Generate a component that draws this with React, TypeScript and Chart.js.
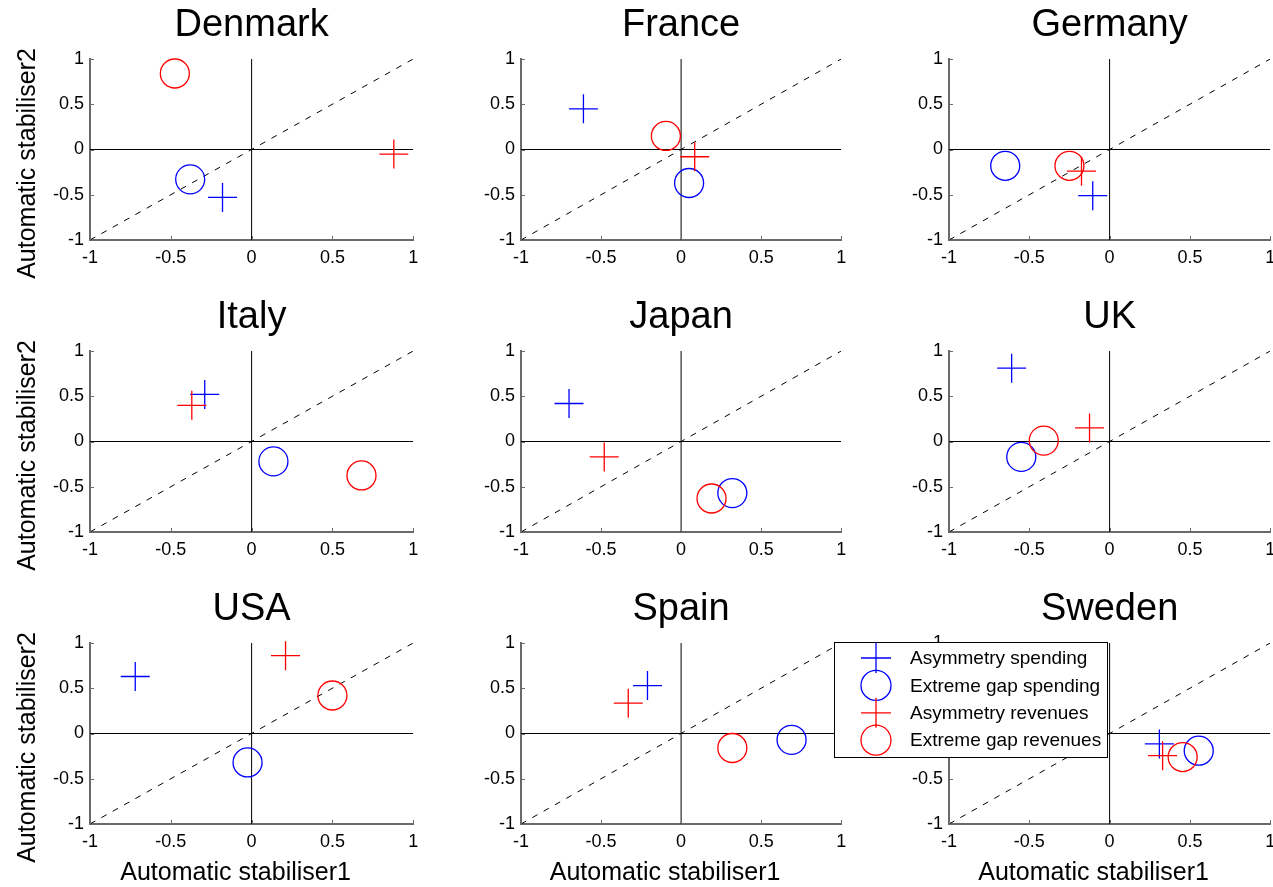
import React, { useEffect, useRef } from 'react';
import { Chart, registerables } from 'chart.js';

Chart.register(...registerables);

// ---------- data ----------
const countries = ['Denmark', 'France', 'Germany', 'Italy', 'Japan', 'UK', 'USA', 'Spain', 'Sweden'];
const seriesNames = ['Asymmetry spending', 'Extreme gap spending', 'Asymmetry revenues', 'Extreme gap revenues'];

const asymSpendingX = [-0.18, -0.61, -0.105, -0.29, -0.70, -0.61, -0.72, -0.21, 0.31];
const asymSpendingY = [-0.53, 0.45, -0.51, 0.52, 0.42, 0.81, 0.63, 0.53, -0.115];
const gapSpendingX = [-0.38, 0.05, -0.65, 0.135, 0.32, -0.55, -0.025, 0.69, 0.555];
const gapSpendingY = [-0.33, -0.37, -0.18, -0.22, -0.57, -0.17, -0.32, -0.07, -0.19];
const asymRevenuesX = [0.88, 0.085, -0.175, -0.37, -0.48, -0.125, 0.21, -0.33, 0.33];
const asymRevenuesY = [-0.05, -0.08, -0.24, 0.40, -0.17, 0.15, 0.86, 0.335, -0.245];
const gapRevenuesX = [-0.475, -0.095, -0.25, 0.68, 0.19, -0.41, 0.50, 0.32, 0.455];
const gapRevenuesY = [0.84, 0.15, -0.18, -0.375, -0.63, 0.01, 0.42, -0.16, -0.26];

const axisMin = -1;
const axisMax = 1;
const axisTicks = [-1, -0.5, 0, 0.5, 1];
const axisTickLabels = ['-1', '-0.5', '0', '0.5', '1'];
const xAxisTitle = 'Automatic stabiliser1';
const yAxisTitle = 'Automatic stabiliser2';

// ---------- styles / layout ----------
const FONT = '"Liberation Sans", Arial, Helvetica, sans-serif';
const AXIS = '#6a6a6a';
const BLUE = '#0000ff';
const RED = '#ff0000';
const seriesColors = [BLUE, BLUE, RED, RED];
const seriesStyles = ['cross', 'circle', 'cross', 'circle'];
const MARK_R = 14.5;

const colLefts = [90, 521, 949];
const colWidths = [327, 324, 325];
const rowTops = [59, 351, 643];
const PLOT_H = 181;
const PAD_L = 40;
const Y_W = 90;
const X_H = 63;
const TOP = 59;
const RIGHT = 12;

const seriesX = [asymSpendingX, gapSpendingX, asymRevenuesX, gapRevenuesX];
const seriesY = [asymSpendingY, gapSpendingY, asymRevenuesY, gapRevenuesY];

function drawMarker(ctx: CanvasRenderingContext2D, style: string, x: number, y: number, r: number, color: string) {
  ctx.save();
  ctx.strokeStyle = color;
  ctx.lineWidth = 1.3;
  ctx.beginPath();
  if (style === 'cross') {
    ctx.moveTo(x - r, y);
    ctx.lineTo(x + r, y);
    ctx.moveTo(x, y - r);
    ctx.lineTo(x, y + r);
  } else {
    ctx.arc(x, y, r, 0, Math.PI * 2);
  }
  ctx.stroke();
  ctx.restore();
}

function makeDecor(index: number) {
  const col = index % 3;
  const row = Math.floor(index / 3);
  return {
    id: 'decor' + index,
    afterDraw(chart: any) {
      const { ctx, chartArea: a, scales } = chart;
      const xs = scales.x;
      const ys = scales.y;
      ctx.save();
      // inward tick marks
      ctx.strokeStyle = AXIS;
      ctx.lineWidth = 1;
      axisTicks.forEach((v) => {
        const px = Math.round(xs.getPixelForValue(v)) + 0.5;
        ctx.beginPath();
        ctx.moveTo(px, a.bottom);
        ctx.lineTo(px, a.bottom - 4);
        ctx.stroke();
        const py = Math.round(ys.getPixelForValue(v)) + 0.5;
        ctx.beginPath();
        ctx.moveTo(a.left, py);
        ctx.lineTo(a.left + 4, py);
        ctx.stroke();
      });
      // title
      ctx.fillStyle = '#000';
      ctx.font = `38px ${FONT}`;
      ctx.textAlign = 'center';
      ctx.textBaseline = 'alphabetic';
      ctx.fillText(countries[index], (a.left + a.right) / 2, a.top - 23);
      // axis titles
      ctx.font = `25px ${FONT}`;
      if (col === 0) {
        ctx.save();
        ctx.translate(a.left - 55, (a.top + a.bottom) / 2 + 14);
        ctx.rotate(-Math.PI / 2);
        ctx.textAlign = 'center';
        ctx.textBaseline = 'alphabetic';
        ctx.fillText(yAxisTitle, 0, 0);
        ctx.restore();
      }
      if (row === 2) {
        ctx.textAlign = 'center';
        ctx.textBaseline = 'alphabetic';
        ctx.fillText(xAxisTitle, (a.left + a.right) / 2 - 16, a.bottom + 56);
      }
      // legend (last panel)
      if (index === countries.length - 1) {
        const lx = a.left - 115;
        const ly = a.top - 1;
        const lw = 273;
        const lh = 115;
        ctx.fillStyle = '#fff';
        ctx.fillRect(lx, ly, lw, lh);
        ctx.strokeStyle = '#000';
        ctx.lineWidth = 1;
        ctx.strokeRect(Math.round(lx) + 0.5, Math.round(ly) + 0.5, lw, lh);
        ctx.font = `19px ${FONT}`;
        ctx.textAlign = 'left';
        ctx.textBaseline = 'middle';
        seriesNames.forEach((name, i) => {
          const ry = ly + 16 + i * 27.4;
          drawMarker(ctx, seriesStyles[i], lx + 42, ry, 15, seriesColors[i]);
          ctx.fillStyle = '#000';
          ctx.fillText(name, lx + 76, ry + 1);
        });
      }
      ctx.restore();
    },
  };
}

function Panel({ index }: { index: number }) {
  const ref = useRef<HTMLCanvasElement>(null);
  const col = index % 3;
  const row = Math.floor(index / 3);
  const W = PAD_L + Y_W + colWidths[col] + RIGHT;
  const H = TOP + PLOT_H + X_H;
  const left = colLefts[col] - PAD_L - Y_W;
  const top = rowTops[row] - TOP;

  useEffect(() => {
    if (!ref.current) return;
    const markerSets = seriesNames.map((name, s) => ({
      label: name,
      data: [{ x: seriesX[s][index], y: seriesY[s][index] }],
      pointStyle: seriesStyles[s],
      pointRadius: MARK_R,
      pointBorderWidth: 1.3,
      pointBorderColor: seriesColors[s],
      pointBackgroundColor: 'rgba(0,0,0,0)',
      showLine: false,
      clip: false,
      order: 4 - s,
    }));
    const lineBase = {
      showLine: true,
      pointRadius: 0,
      borderColor: '#000',
      borderWidth: 1,
      fill: false,
    };
    const lineSets = [
      { ...lineBase, label: 'zeroH', data: [{ x: axisMin, y: 0 }, { x: axisMax, y: 0 }], order: 10 },
      { ...lineBase, label: 'zeroV', data: [{ x: 0, y: axisMin }, { x: 0, y: axisMax }], order: 11 },
      { ...lineBase, label: 'diag', data: [{ x: axisMin, y: axisMin }, { x: axisMax, y: axisMax }], borderDash: [6, 7], order: 12 },
    ];
    const tickFont = { size: 18, family: FONT };
    const chart = new Chart(ref.current, {
      type: 'scatter',
      data: { datasets: [...markerSets, ...lineSets] as any },
      options: {
        responsive: false,
        animation: false,
        devicePixelRatio: 1,
        events: [],
        layout: { padding: { left: PAD_L, top: TOP, right: RIGHT, bottom: 0 } },
        plugins: {
          legend: { display: false },
          tooltip: { enabled: false },
          title: { display: false },
        },
        scales: {
          x: {
            type: 'linear',
            min: axisMin,
            max: axisMax,
            afterBuildTicks: (s: any) => {
              s.ticks = axisTicks.map((v) => ({ value: v }));
            },
            afterFit: (s: any) => {
              s.height = X_H;
            },
            grid: { display: false, drawTicks: false },
            border: { display: true, color: AXIS, width: 2 },
            ticks: {
              padding: 7,
              color: '#000',
              font: tickFont,
              maxRotation: 0,
              autoSkip: false,
              callback: (_v: any, i: number) => axisTickLabels[i],
            },
          },
          y: {
            type: 'linear',
            min: axisMin,
            max: axisMax,
            afterBuildTicks: (s: any) => {
              s.ticks = axisTicks.map((v) => ({ value: v }));
            },
            afterFit: (s: any) => {
              s.width = Y_W;
            },
            grid: { display: false, drawTicks: false },
            border: { display: true, color: AXIS, width: 2 },
            ticks: {
              padding: 6,
              color: '#000',
              font: tickFont,
              autoSkip: false,
              callback: (_v: any, i: number) => axisTickLabels[i],
            },
          },
        },
      } as any,
      plugins: [makeDecor(index)],
    });
    return () => chart.destroy();
  }, [index]);

  return (
    <canvas
      ref={ref}
      width={W}
      height={H}
      style={{ position: 'absolute', left, top, width: W, height: H }}
    />
  );
}

export default function App() {
  return (
    <div
      style={{
        position: 'fixed',
        left: 0,
        top: 0,
        width: 1273,
        height: 887,
        overflow: 'hidden',
        background: '#fff',
      }}
    >
      {countries.map((c, i) => (
        <Panel key={c} index={i} />
      ))}
    </div>
  );
}
